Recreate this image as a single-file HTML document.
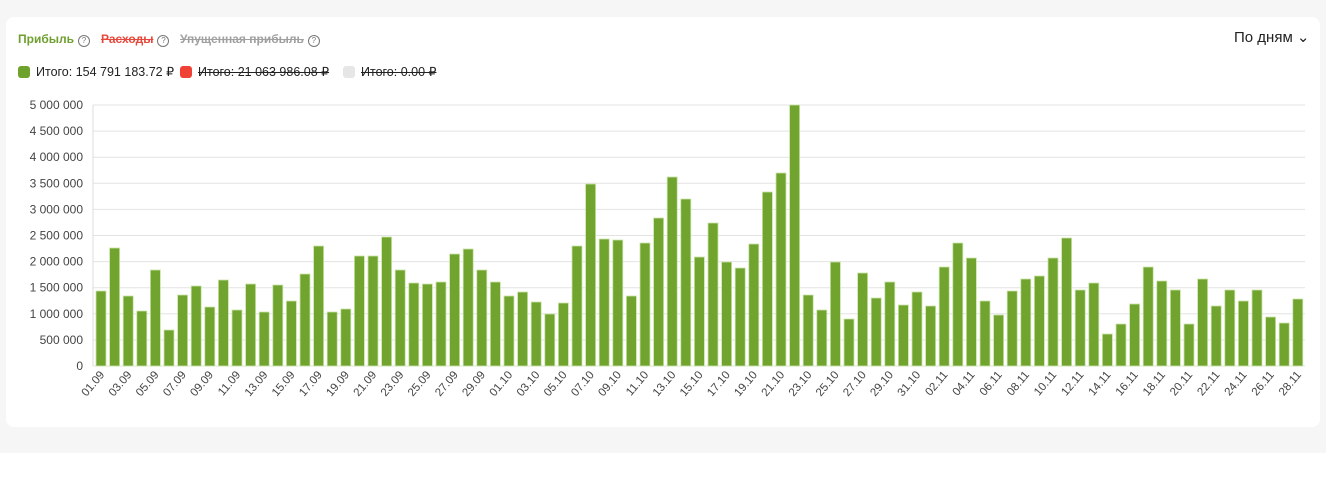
<!DOCTYPE html>
<html><head><meta charset="utf-8">
<style>
html,body{margin:0;padding:0;width:1326px;height:489px;overflow:hidden;background:#fff;font-family:"Liberation Sans",sans-serif;}
.bg{position:absolute;left:0;top:0;width:1326px;height:453px;background:#f6f6f6;}
.card{position:absolute;left:6px;top:17px;width:1314px;height:410px;background:#fff;border-radius:8px;}
.t{position:absolute;font-size:12px;white-space:nowrap;line-height:14px}
.q{display:inline-block;width:10px;height:10px;border:1px solid #777;border-radius:50%;font-size:8px;line-height:10px;text-align:center;color:#777;vertical-align:0px;margin-left:4px;font-weight:normal}
.dot{display:inline-block;width:12px;height:12px;border-radius:3px;vertical-align:-2px;margin-right:6px}
svg{position:absolute;left:0;top:0}
</style></head><body>
<div class="bg"></div>
<div class="card"></div>
<div class="t" style="left:18px;top:32px;font-weight:bold;color:#6e9f2f">Прибыль<span class="q">?</span></div>
<div class="t" style="left:101px;top:32px;font-weight:bold;color:#e8483c"><s>Расходы</s><span class="q">?</span></div>
<div class="t" style="left:180px;top:32px;font-weight:bold;color:#a0a0a0"><s>Упущенная прибыль</s><span class="q">?</span></div>
<div class="t" style="left:18px;top:65px;color:#222;font-size:12.5px"><span class="dot" style="background:#6fa22c"></span>Итого: 154 791 183.72 ₽</div>
<div class="t" style="left:180px;top:65px;color:#222;font-size:12.5px"><span class="dot" style="background:#ef4136"></span><s>Итого: 21 063 986.08 ₽</s></div>
<div class="t" style="left:343px;top:65px;color:#222;font-size:12.5px"><span class="dot" style="background:#e6e6e6"></span><s>Итого: 0.00 ₽</s></div>
<div class="t" style="left:1234px;top:31px;font-size:15px;color:#222">По дням ⌄</div>
<svg id="c" width="1326" height="489" xmlns="http://www.w3.org/2000/svg"></svg>
<script>
var tops=[291,248,296,311,270,330,295,286,307,280,310,284,312,285,301,274,246,312,309,256,256,237,270,283,284,282,254,249,270,282,
296,292,302,314,303,246,184,239,240,296,243,218,177,199,257,223,262,268,244,192,173,105,295,310,262,319,273,298,282,305,292,
306,267,243,258,301,315,291,279,276,258,238,290,283,334,324,304,267,281,290,324,279,306,290,301,290,317,323,299];
var s='',base=366;
for(var i=0;i<=10;i++){var y=base-i*26.1;s+='<line x1="93" x2="1305" y1="'+y+'" y2="'+y+'" stroke="#e3e3e3" stroke-width="1"/>';
var v=i*500000;var lab=v==0?'0':(v+'').replace(/\B(?=(\d{3})+$)/g,' ');
s+='<text x="83" y="'+(y+4)+'" text-anchor="end" font-size="12" fill="#444" font-family="Liberation Sans,sans-serif">'+lab+'</text>';}
s+='<line x1="93" x2="93" y1="105" y2="366" stroke="#ddd"/>';
var lbl=[];function pad(n){return n<10?'0'+n:''+n}
for(var d=1;d<=30;d++)lbl.push(pad(d)+'.09');for(var d=1;d<=31;d++)lbl.push(pad(d)+'.10');for(var d=1;d<=28;d++)lbl.push(pad(d)+'.11');
for(var i=0;i<89;i++){var x=96+i*13.6;var t=tops[i];
s+='<rect x="'+x+'" y="'+t+'" width="10" height="'+(base-t)+'" fill="#70a42e" stroke="#c9e3a6" stroke-width="0.8"/>';
if(i%2==0){var cx=x+5,cy=375;s+='<text transform="translate('+(cx+4)+','+cy+') rotate(-50)" text-anchor="end" font-size="11.5" fill="#444" font-family="Liberation Sans,sans-serif">'+lbl[i]+'</text>';}}
document.getElementById('c').innerHTML=s;
</script>
</body></html>
